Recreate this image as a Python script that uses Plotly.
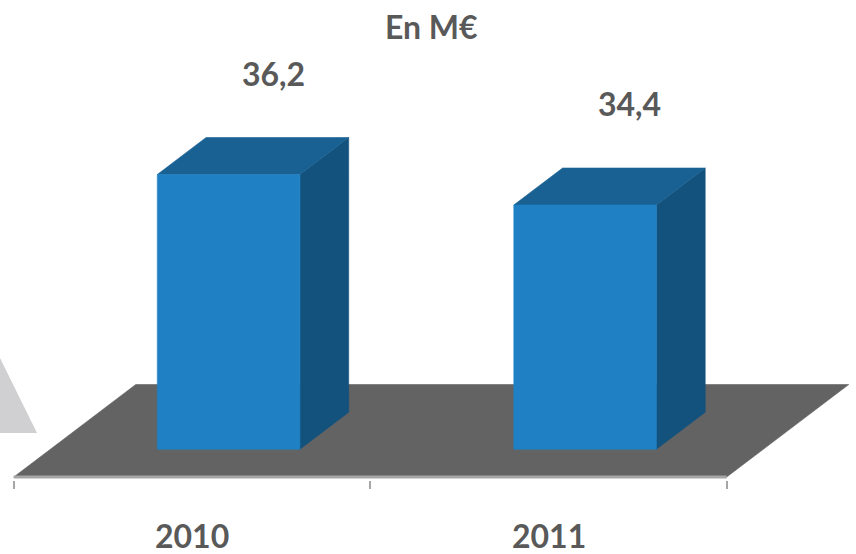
import plotly.graph_objects as go

# ---------------- data ----------------
categories = ["2010", "2011"]
values = [36.2, 34.4]
value_labels = ["36,2", "34,4"]
title_text = "En M€"
axis_min = 20.0

# ---------------- geometry / style ----------------
W, H = 856, 554
MB = 74                      # bottom margin (px)
PLOT_H = H - MB
PX_PER_CAT = 356.5
PX_PER_VAL = 16.96
X0_PX = 192.0                # pixel of first category centre
FLOOR_PX = 477.0             # pixel of axis_min on the front plane
DEPTH_X = 122 / PX_PER_CAT   # oblique depth vector in data units
DEPTH_Y = 92.5 / PX_PER_VAL
HALF_W = 0.2
D_FRONT = 0.3
D_BACK = 0.7

C_FRONT = "#1F81C4"
C_TOP = "#196193"
C_SIDE = "#14527E"
C_FLOOR = "#636363"
C_EDGE = "#A6A6A6"
C_TEXT = "#595959"
FONT = dict(family="Lato", size=32, color=C_TEXT, weight="bold")

x_range = [-X0_PX / PX_PER_CAT, (W - X0_PX) / PX_PER_CAT]
y_range = [axis_min - (PLOT_H - FLOOR_PX) / PX_PER_VAL, axis_min + FLOOR_PX / PX_PER_VAL]


def proj(x, y, d):
    return x + d * DEPTH_X, y + d * DEPTH_Y


def poly(points, color):
    xs = [p[0] for p in points] + [points[0][0]]
    ys = [p[1] for p in points] + [points[0][1]]
    return go.Scatter(x=xs, y=ys, mode="lines", fill="toself", fillcolor=color,
                      line=dict(width=0.6, color=color), hoverinfo="skip",
                      showlegend=False)


fig = go.Figure()

# floor
n = len(categories)
xl, xr = -0.5, n - 0.5
fig.add_trace(poly([proj(xl, axis_min, 0), proj(xr, axis_min, 0),
                    proj(xr, axis_min, 1), proj(xl, axis_min, 1)], C_FLOOR))
# floor front edge
fig.add_trace(go.Scatter(x=[xl, xr], y=[axis_min, axis_min], mode="lines",
                         line=dict(color=C_EDGE, width=3), hoverinfo="skip",
                         showlegend=False, cliponaxis=False))

# bars
for i, v in enumerate(values):
    a, b = i - HALF_W, i + HALF_W
    side = [proj(b, axis_min, D_FRONT), proj(b, axis_min, D_BACK),
            proj(b, v, D_BACK), proj(b, v, D_FRONT)]
    top = [proj(a, v, D_FRONT), proj(b, v, D_FRONT),
           proj(b, v, D_BACK), proj(a, v, D_BACK)]
    front = [proj(a, axis_min, D_FRONT), proj(b, axis_min, D_FRONT),
             proj(b, v, D_FRONT), proj(a, v, D_FRONT)]
    fig.add_trace(poly(side, C_SIDE))
    fig.add_trace(poly(top, C_TOP))
    fig.add_trace(poly(front, C_FRONT))
    lx, ly = proj(i, v, D_BACK)
    fig.add_annotation(x=lx - 4 / PX_PER_CAT, y=ly + 3.8, text=value_labels[i],
                       showarrow=False, font=FONT, xanchor="center", yanchor="middle")

# category labels (below the plot area, so positioned in paper units vertically)
for i, c in enumerate(categories):
    fig.add_annotation(x=i, xref="x", yref="paper", y=(PLOT_H - 535) / PLOT_H,
                       text=c, showarrow=False, font=FONT,
                       xanchor="center", yanchor="middle")

# title
fig.add_annotation(xref="paper", yref="paper", x=432 / W, y=(PLOT_H - 26.5) / PLOT_H,
                   text=title_text, showarrow=False, font=FONT,
                   xanchor="center", yanchor="middle")

# decorative grey triangle at left edge
def pp(px, py):
    return px / W, (PLOT_H - py) / PLOT_H

p1, p2, p3 = pp(-2, 354), pp(37, 433), pp(-2, 433)
fig.add_shape(type="path", xref="paper", yref="paper",
              path=f"M {p1[0]} {p1[1]} L {p2[0]} {p2[1]} L {p3[0]} {p3[1]} Z",
              fillcolor="#D0D0D2", line=dict(width=0), layer="below")

fig.update_xaxes(range=x_range, showgrid=False, zeroline=False, showline=False,
                 tickvals=[k - 0.5 for k in range(n + 1)], ticks="outside",
                 ticklen=8, tickwidth=2, tickcolor=C_EDGE, showticklabels=False,
                 fixedrange=True)
fig.update_yaxes(range=y_range, showgrid=False, zeroline=False, showline=False,
                 showticklabels=False, ticks="", fixedrange=True)

fig.update_layout(width=W, height=H, margin=dict(l=0, r=0, t=0, b=MB),
                  paper_bgcolor="white", plot_bgcolor="white", showlegend=False)

fig.write_html("out.html")
